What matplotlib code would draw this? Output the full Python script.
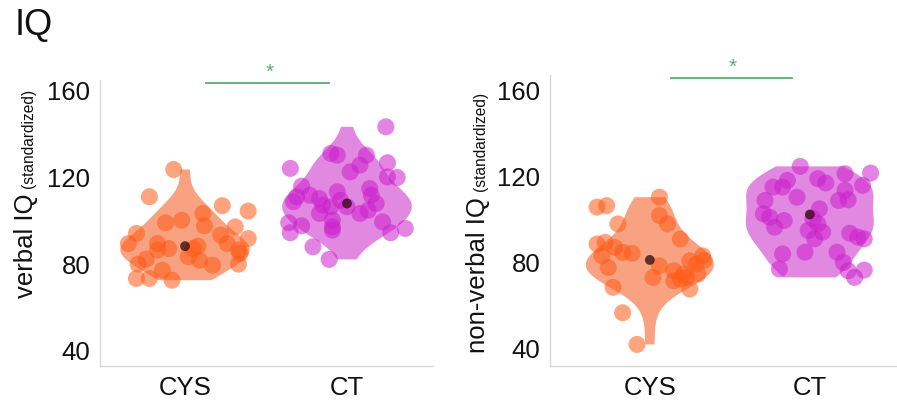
"""IQ comparison: CYS vs CT, verbal and non-verbal, violins with jittered points."""

import matplotlib
matplotlib.use("Agg")
import matplotlib.pyplot as plt
import numpy as np

plt.rcParams["font.family"] = ["Liberation Sans", "DejaVu Sans"]

groups = ["CYS", "CT"]

# verbal IQ
verbal_cys = [123.7, 111.1, 107.0, 104.5, 103.4, 100.3, 99.1, 97.7, 97.2, 94.2,
              93.4, 91.8, 89.5, 89.5, 87.2, 88.3, 89.5, 86.5, 85.0, 83.4,
              81.8, 82.3, 80.0, 79.5, 80.0, 77.2, 73.4, 73.4, 72.6, 87.2, 86.5]
verbal_cys_jit = [-0.07, -0.22, 0.23, 0.39, 0.11, -0.02, -0.12, 0.12, 0.31, -0.30,
                  0.22, 0.39, -0.35, -0.17, -0.10, 0.08, 0.26, 0.33, 0.34, 0.02,
                  0.09, -0.24, -0.29, 0.17, 0.33, -0.14, -0.30, -0.22, -0.08, 0.05, -0.17]
verbal_ct = [143.4, 131.1, 130.3, 130.3, 126.8, 124.2, 125.7, 122.6, 120.3, 120.0,
             116.0, 114.9, 111.1, 111.8, 110.3, 113.4, 111.8, 108.8, 109.5, 108.0,
             106.5, 106.5, 103.4, 103.4, 104.9, 100.3, 99.1, 97.7, 99.5, 97.2,
             94.5, 96.5, 94.5, 95.7, 88.0, 82.2, 107.3]
verbal_ct_jit = [0.24, -0.10, -0.06, 0.12, 0.25, -0.35, 0.08, 0.02, 0.25, 0.31,
                 -0.28, 0.14, -0.31, -0.23, -0.17, -0.06, 0.15, -0.33, -0.04, 0.18,
                 0.00, -0.10, -0.17, 0.08, 0.13, -0.09, -0.36, -0.28, 0.22, -0.09,
                 -0.35, 0.36, 0.27, -0.09, -0.21, -0.11, -0.15]

# non-verbal IQ
nonverbal_cys = [110.3, 105.7, 106.4, 101.8, 97.9, 97.9, 90.9, 88.6, 89.4, 87.0,
                 84.7, 84.3, 83.1, 83.1, 80.8, 79.3, 78.5, 77.7, 76.2, 74.6,
                 72.3, 73.1, 73.1, 74.6, 68.5, 67.7, 56.7, 42.0, 81.0, 71.5]
nonverbal_cys_jit = [0.06, -0.33, -0.27, 0.06, 0.11, -0.20, 0.19, -0.33, -0.28, -0.22,
                     -0.17, -0.11, -0.30, 0.33, 0.25, 0.29, 0.06, -0.26, 0.15, 0.21,
                     0.19, 0.02, 0.23, 0.30, -0.23, 0.25, -0.17, -0.08, 0.34, 0.15]
nonverbal_ct = [124.6, 121.5, 121.2, 118.1, 118.9, 116.9, 115.0, 115.0, 115.8, 113.5,
                110.3, 108.8, 109.1, 108.8, 102.6, 104.9, 101.0, 100.3, 99.5, 96.4,
                98.0, 94.9, 94.1, 93.6, 91.8, 91.0, 91.0, 84.8, 84.8, 84.0,
                80.0, 77.0, 76.2, 76.5, 73.1]
nonverbal_ct_jit = [-0.06, 0.38, 0.22, -0.14, 0.05, 0.10, -0.23, -0.17, 0.33, 0.22,
                    -0.08, 0.18, 0.24, -0.28, -0.29, 0.06, -0.25, 0.02, -0.16, -0.22,
                    0.05, -0.01, 0.08, 0.25, 0.30, 0.34, 0.03, -0.03, 0.17, -0.17,
                    0.21, -0.19, 0.24, 0.34, 0.28]

# group means as marked on the picture
verbal_means = [88.3, 108.0]
nonverbal_means = [81.2, 102.3]

yticks = [40, 80, 120, 160]

point_colors = ["#ff5a14", "#cc1fcc"]
violin_colors = ["#f66a34", "#d040d0"]
sig_color = "#5aad6f"
spine_color = "#d8d8d8"


def panel(ax, data, jitter, means, ylabel, xlim, ylim, label_xy):
    parts = ax.violinplot(data, positions=[0, 1], widths=0.8, bw_method=0.5,
                          showextrema=False)
    for body, c in zip(parts["bodies"], violin_colors):
        body.set_facecolor(c)
        body.set_edgecolor("none")
        body.set_alpha(0.62)
    for i, (vals, jit) in enumerate(zip(data, jitter)):
        x = i + np.asarray(jit)
        ax.scatter(x, vals, s=150, color=point_colors[i], alpha=0.55,
                   edgecolors="none", zorder=3)
    ax.scatter([0, 1], means, s=50, color="#2a0a0a", alpha=0.75,
               edgecolors="none", zorder=4)

    ax.set_xlim(*xlim)
    ax.set_ylim(*ylim)
    ax.set_xticks([0, 1])
    ax.set_xticklabels(groups)
    ax.set_yticks(yticks)
    ax.tick_params(length=0, labelsize=18.5, pad=7, colors="#111111")
    for s in ("top", "right"):
        ax.spines[s].set_visible(False)
    for s in ("left", "bottom"):
        ax.spines[s].set_color(spine_color)
        ax.spines[s].set_linewidth(1.0)

    # significance bar
    ax.plot([0.13, 0.89], [ylim[1] - 1.2, ylim[1] - 1.2], color=sig_color,
            lw=1.3, clip_on=False)
    ax.text(0.52, ylim[1] - 1.0, "*", color=sig_color, ha="center",
            va="bottom", fontsize=15, clip_on=False)

    # two-size y label: big name then small "(standardized)"
    fig = ax.figure
    lx, ly = label_xy
    big = fig.text(lx, ly, ylabel, rotation=90, rotation_mode="anchor",
                   ha="left", va="baseline", fontsize=18.5, color="#111111")
    fig.canvas.draw()
    bb = big.get_window_extent()
    top = (bb.y1 + 6) / fig.bbox.height
    fig.text(lx, top, "(standardized)", rotation=90, rotation_mode="anchor",
             ha="left", va="baseline", fontsize=11.2, color="#111111")


fig = plt.figure(figsize=(8.97, 4.0), dpi=100)
fig.patch.set_facecolor("white")

ax1 = fig.add_axes([0.1115, 0.085, 0.371, 0.715])
ax2 = fig.add_axes([0.613, 0.085, 0.387, 0.7275])

panel(ax1, [verbal_cys, verbal_ct], [verbal_cys_jit, verbal_ct_jit], verbal_means,
      "verbal IQ", (-0.525, 1.53), (33, 165), (0.037, 1 - 298 / 400))
panel(ax2, [nonverbal_cys, nonverbal_ct], [nonverbal_cys_jit, nonverbal_ct_jit],
      nonverbal_means, "non-verbal IQ", (-0.625, 1.545), (32, 167),
      (0.541, 1 - 353 / 400))

fig.text(0.016, 0.893, "IQ", fontsize=26, color="#111111", ha="left", va="bottom")

fig.savefig("out.png", dpi=100, facecolor="white")
